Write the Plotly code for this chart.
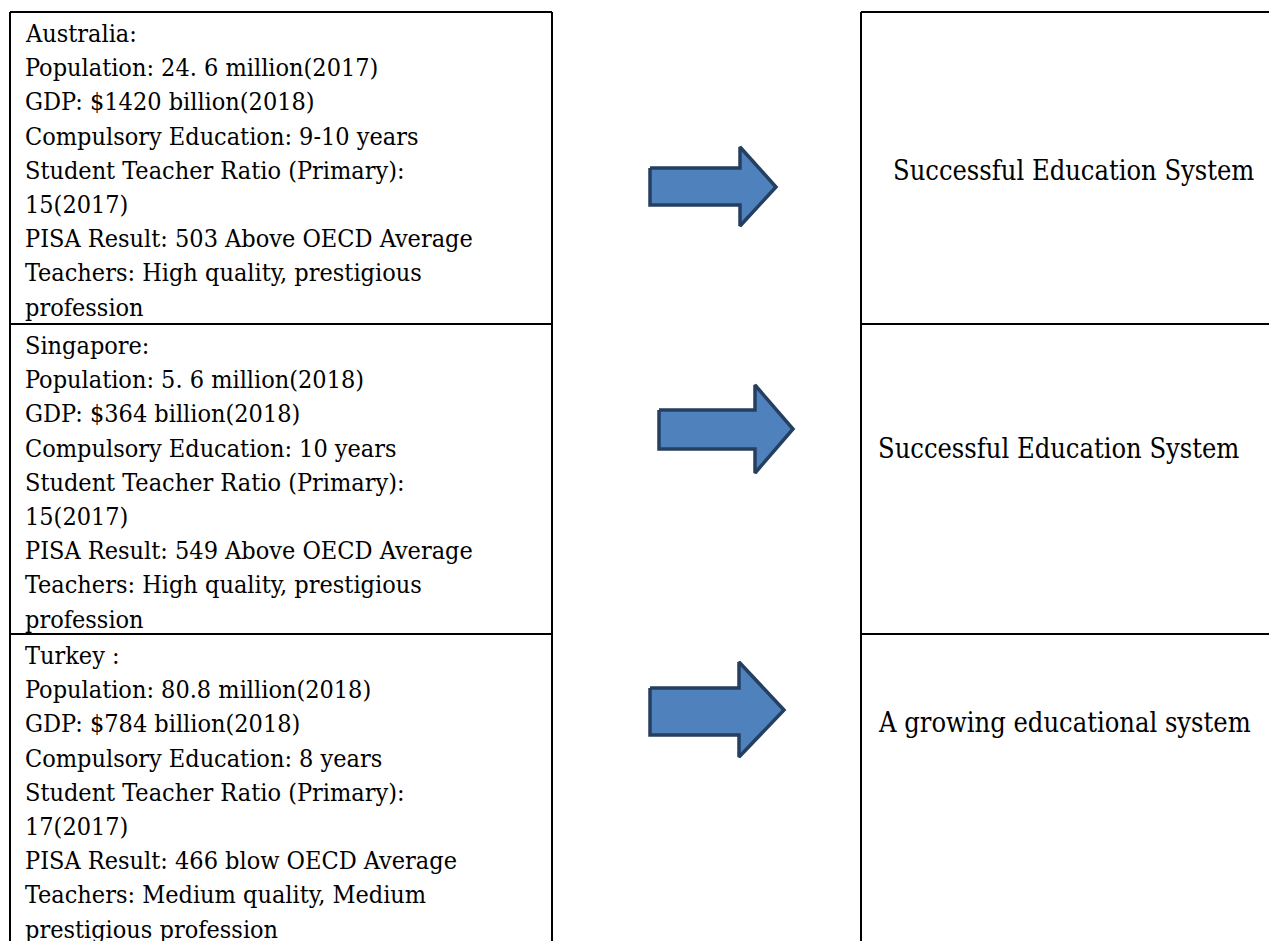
import plotly.graph_objects as go

# ---------------- data ----------------
countries = ["Australia:", "Singapore:", "Turkey :"]
population = ["24. 6 million(2017)", "5. 6 million(2018)", "80.8 million(2018)"]
gdp = ["$1420 billion(2018)", "$364 billion(2018)", "$784 billion(2018)"]
compulsory = ["9-10 years", "10 years", "8 years"]
student_ratio = ["15(2017)", "15(2017)", "17(2017)"]
pisa = ["503 Above OECD Average", "549 Above OECD Average", "466 blow OECD Average"]
teachers_line1 = ["High quality, prestigious", "High quality, prestigious", "Medium quality, Medium"]
teachers_line2 = ["profession", "profession", "prestigious profession"]
outcomes = ["Successful Education System", "Successful Education System", "A growing educational system"]

# ---------------- layout geometry ----------------
W, H = 1277, 941
OFF = 8  # page body margin compensation
FONT = "DejaVu Serif Condensed, Liberation Serif, serif"
FS = 25
FS_RIGHT = 27
row_tops = [12, 324, 634]
left_x0, left_x1 = 10, 552
right_x0 = 861
line_gap = 34.2
first_offset = 21.5
text_x = 23

# arrows: (left, shaft_top, shaft_bottom, head_x, head_top, head_bottom, tip_x, tip_y)
arrows = [
    (650, 168, 205, 740, 147, 226, 776, 187),
    (659, 410, 449, 755, 385, 473, 793, 429),
    (650, 688, 735, 739, 662, 757, 784, 710),
]
outcome_pos = [(1073, 170, "center"), (876, 448, "left"), (876, 722, "left")]

fig = go.Figure()

for (lx, st, sb, hx, ht, hb, tx, ty) in arrows:
    xs = [lx, hx, hx, tx, hx, hx, lx, lx]
    ys = [st, st, ht, ty, hb, sb, sb, st]
    fig.add_trace(go.Scatter(x=xs, y=ys, mode="lines", fill="toself",
                             fillcolor="#4F81BD",
                             line=dict(color="#243F60", width=3.5),
                             hoverinfo="skip", showlegend=False))

shapes = []
line_style = dict(color="black", width=2)
for x in (left_x0, left_x1, right_x0):
    shapes.append(dict(type="line", x0=x, x1=x, y0=row_tops[0], y1=H + 20, line=line_style))
for y in row_tops:
    shapes.append(dict(type="line", x0=left_x0, x1=left_x1, y0=y, y1=y, line=line_style))
    shapes.append(dict(type="line", x0=right_x0, x1=W + 20, y0=y, y1=y, line=line_style))

annotations = []
for i in range(3):
    lines = [
        countries[i],
        "Population: " + population[i],
        "GDP: " + gdp[i],
        "Compulsory Education: " + compulsory[i],
        "Student Teacher Ratio (Primary):",
        student_ratio[i],
        "PISA Result: " + pisa[i],
        "Teachers: " + teachers_line1[i],
        teachers_line2[i],
    ]
    for j, t in enumerate(lines):
        annotations.append(dict(x=text_x, y=row_tops[i] + first_offset + j * line_gap,
                                text=t, showarrow=False, xanchor="left", yanchor="middle",
                                font=dict(family=FONT, size=FS, color="black")))
    ox, oy, anc = outcome_pos[i]
    annotations.append(dict(x=ox, y=oy, text=outcomes[i], showarrow=False,
                            xanchor=anc, yanchor="middle",
                            font=dict(family=FONT, size=FS_RIGHT, color="black")))

fig.update_layout(
    width=W, height=H,
    margin=dict(l=0, r=0, t=0, b=0),
    paper_bgcolor="white", plot_bgcolor="white",
    xaxis=dict(range=[OFF, W + OFF], visible=False, fixedrange=True),
    yaxis=dict(range=[H + OFF, OFF], visible=False, fixedrange=True),
    shapes=shapes, annotations=annotations,
)

fig.write_html("out.html", config={"displayModeBar": False})
